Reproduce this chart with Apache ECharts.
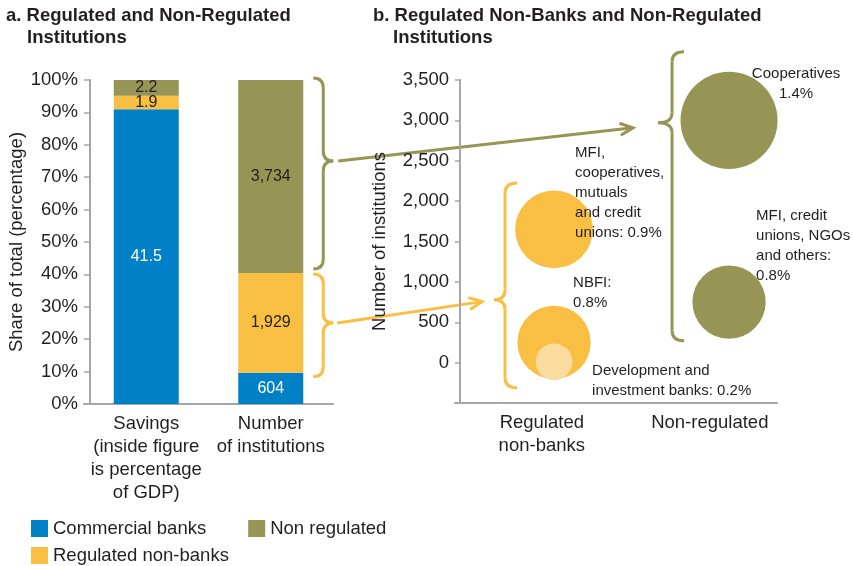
<!DOCTYPE html>
<html>
<head>
<meta charset="utf-8">
<script src="https://cdn.jsdelivr.net/npm/echarts@6/dist/echarts.min.js"></script>
<style>
  html, body { margin: 0; padding: 0; background: #fff; }
  #chart { width: 853px; height: 566px; }
</style>
</head>
<body>
<div id="chart"></div>
<script>
// panel a: shares of total
const barCategories = ["Savings\n(inside figure\nis percentage\nof GDP)", "Number\nof institutions"];
const seriesNames = ["Commercial banks", "Regulated non-banks", "Non regulated"];
const commercialBanks = [41.5, 604];
const regulatedNonBanks = [1.9, 1929];
const nonRegulated = [2.2, 3734];

// panel b: bubbles
const bubbleCategories = ["Regulated\nnon-banks", "Non-regulated"];
const bubbleNames = [
  "MFI,\ncooperatives,\nmutuals\nand credit\nunions: 0.9%",
  "NBFI:\n0.8%",
  "Development and\ninvestment banks: 0.2%",
  "Cooperatives\n1.4%",
  "MFI, credit\nunions, NGOs\nand others:\n0.8%",
];
const bubbleGroup = [0, 0, 0, 1, 1];
const bubbleCount = [1650, 250, 10, 3000, 750];
const bubbleShare = [0.9, 0.8, 0.2, 1.4, 0.8];

const FONT = "'Liberation Sans', Arial, sans-serif";
const TXT = "#231F20";
const AXIS = "#A6A6A6";
const BLUE = "#0080C6";
const YELLOW = "#F9BF42";
const OLIVE = "#979555";
const LIGHT = "#FCDB9F";

const raw = [commercialBanks, regulatedNonBanks, nonRegulated];
const totals = barCategories.map((c, j) => raw.reduce((s, arr) => s + arr[j], 0));
const pct = raw.map((arr) => arr.map((v, j) => (v / totals[j]) * 100));
const barColors = [BLUE, YELLOW, OLIVE];
const barLabelColors = ["#fff", TXT, TXT];

const bubbleColors = [YELLOW, YELLOW, LIGHT, OLIVE, OLIVE];
// label placement relative to the bubble centre
const bubbleLabelLayout = [
  { offset: [21, -37], align: "left" },
  { offset: [19, -50], align: "left" },
  { offset: [38, 19], align: "left" },
  { offset: [67, -37], align: "center" },
  { offset: [27, -56], align: "left" },
];
const xLabelPos = [-0.07, 0.89];

const myChart = echarts.init(document.getElementById("chart"));

let option = {
  animation: false,
  textStyle: { fontFamily: FONT, color: TXT },
  title: [
    { text: "a. Regulated and Non-Regulated", left: 6, top: 6 },
    { text: "Institutions", left: 27, top: 28 },
    { text: "b. Regulated Non-Banks and Non-Regulated", left: 373, top: 6 },
    { text: "Institutions", left: 393, top: 28 },
  ].map((t) => ({
    ...t,
    padding: 0,
    textStyle: { fontFamily: FONT, fontSize: 18.5, fontWeight: "bold", color: TXT },
  })),
  legend: [
    { data: [seriesNames[0], seriesNames[2]], top: 519, itemGap: 42 },
    { data: [seriesNames[1]], top: 546 },
  ].map((l) => ({
    ...l,
    left: 31,
    padding: 0,
    itemWidth: 17,
    itemHeight: 17,
    icon: "rect",
    textStyle: { fontFamily: FONT, fontSize: 18.5, color: TXT },
  })),
  grid: [
    { left: 84, top: 80, width: 249, height: 324 },
    { left: 455, top: 80, width: 322, height: 323 },
  ],
  xAxis: [
    {
      type: "category",
      gridIndex: 0,
      data: barCategories,
      axisTick: { show: false },
      axisLine: { lineStyle: { color: AXIS, width: 2 } },
      axisLabel: { color: TXT, fontSize: 18.5, lineHeight: 23, margin: 8, interval: 0 },
    },
    {
      type: "value",
      gridIndex: 1,
      min: -0.566,
      max: 1.274,
      splitLine: { show: false },
      axisTick: { show: false },
      axisLine: { show: true, onZero: false, lineStyle: { color: AXIS, width: 2 } },
      axisLabel: {
        customValues: xLabelPos,
        color: TXT,
        fontSize: 18.5,
        lineHeight: 23,
        margin: 8,
        formatter: (v) => {
          let best = 0;
          xLabelPos.forEach((p, i) => {
            if (Math.abs(p - v) < Math.abs(xLabelPos[best] - v)) best = i;
          });
          return bubbleCategories[best];
        },
      },
    },
  ],
  yAxis: [
    {
      type: "value",
      gridIndex: 0,
      min: 0,
      max: 100,
      interval: 10,
      offset: -6,
      name: "Share of total (percentage)",
      nameLocation: "middle",
      nameGap: 64,
      nameTextStyle: { fontSize: 18.5, color: TXT, fontFamily: FONT },
      splitLine: { show: false },
      axisLine: { show: true, lineStyle: { color: AXIS, width: 2 } },
      axisTick: { show: true, length: 6, lineStyle: { color: AXIS, width: 1.5 } },
      axisLabel: { formatter: "{value}%", color: TXT, fontSize: 18.5, margin: 12 },
    },
    {
      type: "value",
      gridIndex: 1,
      min: -500,
      max: 3500,
      interval: 500,
      offset: -5,
      name: "Number of institutions",
      nameLocation: "middle",
      nameGap: 71,
      nameTextStyle: { fontSize: 18.5, color: TXT, fontFamily: FONT },
      splitLine: { show: false },
      axisLine: { show: true, onZero: false, lineStyle: { color: AXIS, width: 2 } },
      axisTick: { show: true, length: 5, lineStyle: { color: AXIS, width: 1.5 } },
      axisLabel: {
        color: TXT,
        fontSize: 18.5,
        margin: 11,
        formatter: (v) => (v < 0 ? "" : v.toLocaleString("en-US")),
      },
    },
  ],
  series: [
    ...seriesNames.map((name, i) => ({
      name: name,
      type: "bar",
      stack: "share",
      xAxisIndex: 0,
      yAxisIndex: 0,
      barWidth: 65,
      itemStyle: { color: barColors[i] },
      label: {
        show: true,
        position: "inside",
        fontSize: 16,
        fontFamily: FONT,
        color: barLabelColors[i],
        formatter: (p) => raw[i][p.dataIndex].toLocaleString("en-US"),
      },
      data: pct[i],
    })),
    {
      name: "bubbles",
      type: "scatter",
      xAxisIndex: 1,
      yAxisIndex: 1,
      symbolSize: (val) => 82 * Math.sqrt(val[2]),
      data: bubbleNames.map((n, i) => ({
        name: n,
        value: [bubbleGroup[i], bubbleCount[i], bubbleShare[i]],
        itemStyle: { color: bubbleColors[i], opacity: 1 },
        label: {
          show: true,
          position: "inside",
          offset: bubbleLabelLayout[i].offset,
          align: bubbleLabelLayout[i].align,
          verticalAlign: "middle",
          formatter: "{b}",
          fontSize: 15,
          lineHeight: 20,
          fontFamily: FONT,
          color: TXT,
        },
      })),
    },
  ],
};

myChart.setOption(option);

// braces and arrows, placed from the axes
function toPx(g, x, y) {
  return myChart.convertToPixel({ xAxisIndex: g, yAxisIndex: g }, [x, y]);
}
function stroke(color) {
  return { stroke: color, lineWidth: 3, fill: null };
}
function brace(xArm, xSpine, xNib, yTop, yNib, yBot, color) {
  const r = 10;
  const s = stroke(color);
  return [
    { type: "bezierCurve", shape: { x1: xArm, y1: yTop, cpx1: xSpine, cpy1: yTop, x2: xSpine, y2: yTop + r }, style: s },
    { type: "line", shape: { x1: xSpine, y1: yTop + r, x2: xSpine, y2: yNib - r }, style: s },
    { type: "bezierCurve", shape: { x1: xSpine, y1: yNib - r, cpx1: xSpine, cpy1: yNib, x2: xNib, y2: yNib }, style: s },
    { type: "bezierCurve", shape: { x1: xNib, y1: yNib, cpx1: xSpine, cpy1: yNib, x2: xSpine, y2: yNib + r }, style: s },
    { type: "line", shape: { x1: xSpine, y1: yNib + r, x2: xSpine, y2: yBot - r }, style: s },
    { type: "bezierCurve", shape: { x1: xSpine, y1: yBot - r, cpx1: xSpine, cpy1: yBot, x2: xArm, y2: yBot }, style: s },
  ];
}
function arrow(p0, p1, color) {
  const dx = p1[0] - p0[0], dy = p1[1] - p0[1];
  const len = Math.sqrt(dx * dx + dy * dy);
  const ux = dx / len, uy = dy / len;
  const head = 13, half = 6;
  return [
    { type: "line", shape: { x1: p0[0], y1: p0[1], x2: p1[0], y2: p1[1] }, style: stroke(color) },
    {
      type: "polyline",
      shape: {
        points: [
          [p1[0] - ux * head - uy * half, p1[1] - uy * head + ux * half],
          [p1[0], p1[1]],
          [p1[0] - ux * head + uy * half, p1[1] - uy * head - ux * half],
        ],
      },
      style: stroke(color),
    },
  ];
}

const barX = toPx(0, 1, 0)[0] + 65 / 2;
const yTopA = toPx(0, 1, 100)[1];
const yMidA = toPx(0, 1, pct[0][1] + pct[1][1])[1];
const yLowA = toPx(0, 1, pct[0][1])[1];
const olNibA = [barX + 30, yTopA + 0.42 * (yMidA - yTopA)];
const yeNibA = [barX + 30, (yMidA + yLowA) / 2];

const regX = toPx(1, 0, 0)[0];
const nonX = toPx(1, 1, 0)[0];
const yeTopB = toPx(1, 0, 2225)[1], yeNibY = toPx(1, 0, 780)[1], yeBotB = toPx(1, 0, -310)[1];
const olTopB = toPx(1, 1, 3850)[1], olNibY = toPx(1, 1, 2970)[1], olBotB = toPx(1, 1, 270)[1];
const yeNibB = [regX - 60, yeNibY];
const olNibB = [nonX - 71, olNibY];

myChart.setOption({
  graphic: [
    ...brace(barX + 10, barX + 20, olNibA[0], yTopA - 2, olNibA[1], yMidA - 4, OLIVE),
    ...brace(barX + 10, barX + 20, yeNibA[0], yMidA + 1, yeNibA[1], yLowA + 4, YELLOW),
    ...brace(regX - 37, regX - 49, yeNibB[0], yeTopB, yeNibB[1], yeBotB, YELLOW),
    ...brace(nonX - 45, nonX - 57, olNibB[0], olTopB, olNibB[1], olBotB, OLIVE),
    ...arrow([olNibA[0] + 5, olNibA[1]], [olNibB[0] - 25, olNibB[1] + 5], OLIVE),
    ...arrow([yeNibA[0] + 4, yeNibA[1]], [yeNibB[0] - 12, yeNibB[1] + 2], YELLOW),
  ],
});
</script>
</body>
</html>
